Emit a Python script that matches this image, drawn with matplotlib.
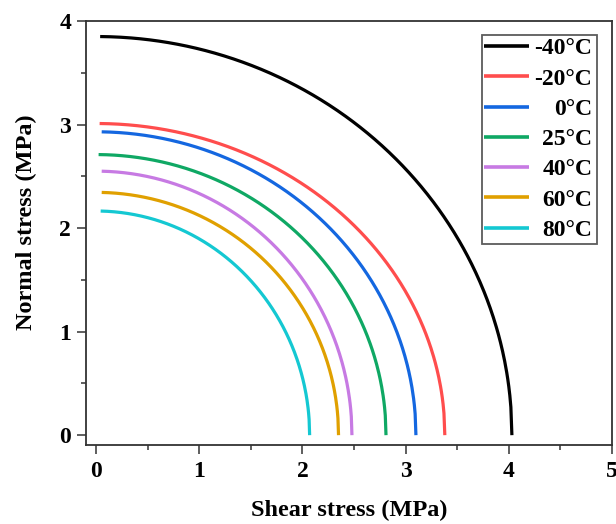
import numpy as np
import matplotlib
matplotlib.use("Agg")
import matplotlib.pyplot as plt
from matplotlib.ticker import MultipleLocator

# Failure envelopes: (tau/tau0)^2 + (sigma/sigma0)^2 = 1 for each temperature
labels = ["-40°C", "-20°C", "0°C", "25°C", "40°C", "60°C", "80°C"]
shear_strength = [4.03, 3.38, 3.10, 2.81, 2.48, 2.35, 2.07]   # x-intercepts (MPa)
normal_strength = [3.85, 3.01, 2.93, 2.71, 2.55, 2.345, 2.165]  # y-intercepts (MPa)
shear_start = [0.04, 0.035, 0.055, 0.025, 0.055, 0.055, 0.045]
colors = ["#000000", "#FF4D4D", "#1467E0", "#0FA864", "#C77AE3", "#E0A000", "#14C8D2"]

plt.rcParams["font.family"] = ["Liberation Serif", "DejaVu Serif"]
plt.rcParams["font.weight"] = "bold"

fig = plt.figure(figsize=(6.16, 5.24), dpi=100)
ax = fig.add_axes([85.7 / 616, 1 - 445 / 524, (612 - 85.7) / 616, (445 - 21) / 524])

for lab, a, b, x0, c in zip(labels, shear_strength, normal_strength, shear_start, colors):
    x = np.linspace(x0, a, 400)
    y = b * np.sqrt(np.clip(1 - (x / a) ** 2, 0, None))
    ax.plot(x, y, color=c, lw=2.3, label=lab, solid_capstyle="butt")

ax.set_xlim(-0.1, 5.0)
ax.set_ylim(-0.095, 4.0)
ax.xaxis.set_major_locator(MultipleLocator(1))
ax.xaxis.set_minor_locator(MultipleLocator(0.5))
ax.yaxis.set_major_locator(MultipleLocator(1))
ax.yaxis.set_minor_locator(MultipleLocator(0.5))
ax.tick_params(which="major", direction="out", length=6.5, width=1.1, color="#333333",
               labelsize=17)
ax.tick_params(axis="x", which="major", pad=5)
ax.tick_params(axis="y", which="major", pad=4)
ax.tick_params(which="minor", direction="out", length=3.5, width=1.1, color="#333333")
for lbl in ax.get_xticklabels() + ax.get_yticklabels():
    lbl.set_fontweight("bold")
for s in ax.spines.values():
    s.set_color("#333333")
    s.set_linewidth(1.3)

ax.set_xlabel("Shear stress (MPa)", fontsize=17.5, fontweight="bold", labelpad=13)
ax.set_ylabel("Normal stress (MPa)", fontsize=17.5, fontweight="bold", labelpad=16)
ax.yaxis.label.set_y(0.525)

leg = ax.legend(loc="upper right", bbox_to_anchor=(597 / 616, 1 - 35 / 524),
                bbox_transform=fig.transFigure, borderaxespad=0,
                prop={"weight": "bold", "size": 17},
                frameon=True, fancybox=False, edgecolor="#333333",
                handlelength=1.9, handletextpad=0.3, labelspacing=0.37,
                borderpad=0.12)
leg.get_frame().set_linewidth(1.3)
for h in leg.get_lines():
    h.set_linewidth(2.6)

# right-align legend labels within their column, leaving a small right margin
fig.canvas.draw()
renderer = fig.canvas.get_renderer()
widths = [t.get_window_extent(renderer).width for t in leg.get_texts()]
wmax = max(widths)
for t, w in zip(leg.get_texts(), widths):
    t.set_position((wmax - w - 2, 0))

fig.savefig("out.png", dpi=100)
